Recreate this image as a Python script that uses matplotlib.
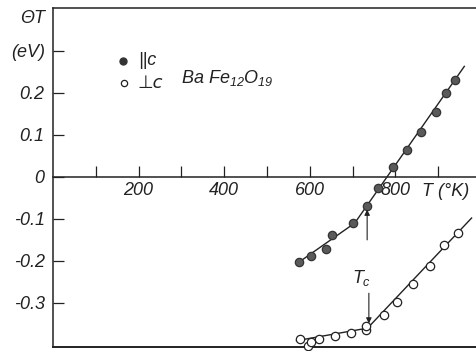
import matplotlib
matplotlib.use("Agg")
import matplotlib.pyplot as plt
from matplotlib.ticker import FixedLocator, FixedFormatter

plt.rcParams['font.family'] = ['Liberation Sans', 'DejaVu Sans']
plt.rcParams['font.style'] = 'italic'
plt.rcParams['mathtext.fontset'] = 'custom'
plt.rcParams['mathtext.rm'] = 'Liberation Sans:italic'
plt.rcParams['mathtext.it'] = 'Liberation Sans:italic'

# ---- data ----
par_T = [575, 603, 639, 653, 700, 734, 760, 794, 826, 859, 895, 918, 940]
par_v = [-0.203, -0.188, -0.172, -0.138, -0.110, -0.069, -0.027,
         0.024, 0.064, 0.106, 0.155, 0.200, 0.231]
par_fit_T = [569, 705, 961]
par_fit_v = [-0.207, -0.110, 0.263]

perp_T = [578, 595, 603, 622, 658, 696, 731, 731, 774, 803, 842, 881, 913, 947]
perp_v = [-0.385, -0.402, -0.392, -0.385, -0.380, -0.372, -0.364, -0.356,
          -0.329, -0.297, -0.255, -0.212, -0.163, -0.133]
perp_fit_T = [569, 735, 978]
perp_fit_v = [-0.390, -0.360, -0.098]

Tc_par = 734
Tc_perp = 738

xtick_pos = [100, 200, 300, 400, 500, 600, 700, 800, 900]
xtick_lab = ['', '200', '', '400', '', '600', '', '800', '']
ytick_pos = [-0.3, -0.2, -0.1, 0, 0.1, 0.2, 0.3]
ytick_lab = ['-0.3', '-0.2', '-0.1', '0', '0.1', '0.2', '(eV)']

# ---- figure ----
W, H = 476, 351
fig = plt.figure(figsize=(W / 100, H / 100), dpi=100)
left, right, top, bottom = 53, 476, 8, 347
ax = fig.add_axes([left / W, (H - bottom) / H, (right - left) / W, (bottom - top) / H])
ax.set_xlim(0, (right - left) / 0.428)
ax.set_ylim(-0.405, 0.402)

ink = '#222222'
fs = 13

for s in ['top', 'left', 'bottom']:
    ax.spines[s].set_color(ink)
    ax.spines[s].set_linewidth(1.1)
ax.spines['right'].set_visible(False)
ax.spines['bottom'].set_position(('data', 0))
# bottom frame line
ax.axhline(-0.405, color=ink, lw=1.4, clip_on=False)

ax.xaxis.set_major_locator(FixedLocator(xtick_pos))
ax.xaxis.set_major_formatter(FixedFormatter(xtick_lab))
ax.yaxis.set_major_locator(FixedLocator(ytick_pos))
ax.yaxis.set_major_formatter(FixedFormatter(ytick_lab))
ax.tick_params(axis='x', direction='in', length=8, width=0.9, color=ink,
               labelsize=fs, labelcolor=ink, pad=4)
ax.tick_params(axis='y', direction='in', length=8, width=0.9, color=ink,
               labelsize=fs, labelcolor=ink, pad=6)

# axis titles
ax.annotate('ΘT', xy=(0, 0.376), xycoords=('axes fraction', 'data'),
            xytext=(-6, 0), textcoords='offset points', ha='right', va='center',
            fontsize=fs, color=ink)
ax.annotate('T (°K)', xy=(862, 0), xycoords='data', xytext=(0, -4.3),
            textcoords='offset points', ha='left', va='top', fontsize=fs, color=ink)

# fitted lines
ax.plot(par_fit_T, par_fit_v, color=ink, lw=1.0, zorder=2)
ax.plot(perp_fit_T, perp_fit_v, color=ink, lw=1.0, zorder=2)

# data points
ax.plot(par_T, par_v, 'o', ms=6.0, mfc='#5a5a5a', mec='#333333', mew=0.9, zorder=3,
        clip_on=False)
ax.plot(perp_T, perp_v, 'o', ms=6.0, mfc='white', mec=ink, mew=0.9, zorder=3,
        clip_on=False)

# Tc arrows
ax.annotate('', xy=(Tc_par, -0.078), xytext=(Tc_par, -0.150),
            arrowprops=dict(arrowstyle='-|>', color=ink, lw=0.8, mutation_scale=8,
                            shrinkA=0, shrinkB=0))
ax.annotate('', xy=(Tc_perp, -0.349), xytext=(Tc_perp, -0.277),
            arrowprops=dict(arrowstyle='-|>', color=ink, lw=0.8, mutation_scale=8,
                            shrinkA=0, shrinkB=0))
ax.text(721, -0.241, '$T_c$', ha='center', va='center', fontsize=fs, color=ink)

# legend
ax.plot([164], [0.276], 'o', ms=5, mfc='#333333', mec='#333333')
ax.plot([166], [0.224], 'o', ms=4.5, mfc='white', mec=ink, mew=0.9)
ax.text(200, 0.276, '||c', ha='left', va='center', fontsize=fs, color=ink)
ax.text(198, 0.224, '⊥c', ha='left', va='center', fontsize=fs, color=ink,
        family=['DejaVu Sans'])
ax.text(300, 0.236, 'Ba Fe$_{12}$O$_{19}$', ha='left', va='center', fontsize=fs,
        color=ink)

fig.savefig('out.png', dpi=100)
